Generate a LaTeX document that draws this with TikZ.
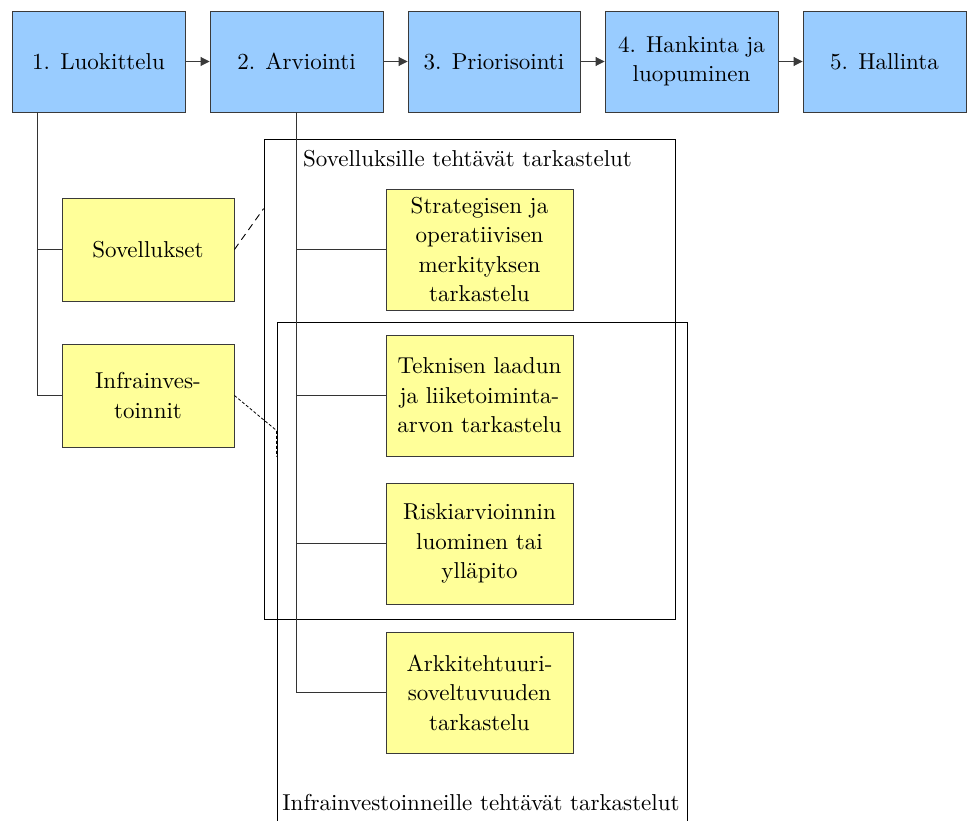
\documentclass[tikz,border=0pt]{standalone}
\usepackage{fontspec}
\IfFontExistsTF{lmroman10-regular.otf}
  {\setmainfont{lmroman10-regular.otf}}
  {\setmainfont{Latin Modern Roman}}
\usetikzlibrary{arrows.meta,calc}
\definecolor{stageblue}{HTML}{99CCFF}
\definecolor{taskyellow}{HTML}{FFFF99}
\definecolor{edgegray}{HTML}{3A3A3A}
\tikzset{
  stage/.style={draw=edgegray, fill=stageblue, line width=0.9pt, align=center, inner sep=0pt, minimum height=101pt},
  task/.style={draw=edgegray, fill=taskyellow, line width=0.9pt, align=center, inner sep=0pt, minimum width=187pt, minimum height=121pt},
  group/.style={draw=edgegray, fill=taskyellow, line width=0.9pt, align=center, inner sep=0pt, minimum width=172pt, minimum height=103pt},
  flow/.style={-{Triangle[length=9pt,width=9pt]}, line width=0.9pt, draw=edgegray},
  tree/.style={line width=0.9pt, draw=black!80},
  frame/.style={draw=black, line width=0.8pt, inner sep=0pt},
  caption/.style={inner sep=0pt}
}
\begin{document}
\begin{tikzpicture}[x=1pt,y=-1pt,font=\rmfamily\fontsize{23}{29.5}\selectfont]
\useasboundingbox (0,0) rectangle (967,821);
\clip (0,0) rectangle (967,821);

% frames around the two sets of reviews
\node[frame, minimum width=411pt, minimum height=480pt] (appframe) at (469.5,379) {};
\node[frame, minimum width=410pt, minimum height=518pt] (infframe) at (482,581) {};
\node[caption, anchor=west] (applabel) at (303,159) {Sovelluksille tehtävät tarkastelut};
\node[caption] (inflabel) at (481,803) {Infrainvestoinneille tehtävät tarkastelut};

% process stages
\node[stage, minimum width=173pt] (b1) at (98.5,61.5) {1. Luokittelu};
\node[stage, minimum width=173pt] (b2) at (296.5,61.5) {2. Arviointi};
\node[stage, minimum width=172pt] (b3) at (494,61.5) {3. Priorisointi};
\node[stage, minimum width=173pt] (b4) at (691.5,61.5) {4. Hankinta ja\\luopuminen};
\node[stage, minimum width=163pt] (b5) at (884.5,61.5) {5. Hallinta};

\draw[flow] (b1) -- (b2);
\draw[flow] (b2) -- (b3);
\draw[flow] (b3) -- (b4);
\draw[flow] (b4) -- (b5);

% classification branches
\coordinate (lroot) at ($(b1.south west)+(26,0)$);
\draw[tree] (lroot) |- (148,249.5);
\draw[tree] (lroot) |- (148,395.5);
\node[group] (sov) at (148,249.5) {Sovellukset};
\node[group] (inf) at (148,395.5) {Infrainves-\\toinnit};

% assessment branches
\node[task] (strat) at (479.5,249.5) {Strategisen ja\\operatiivisen\\merkityksen\\tarkastelu};
\node[task] (tek) at (479.5,395.5) {Teknisen laadun\\ja liiketoiminta-\\arvon tarkastelu};
\node[task] (risk) at (479.5,543.5) {Riskiarvioinnin\\luominen tai\\ylläpito};
\node[task] (ark) at (479.5,692.5) {Arkkitehtuuri-\\soveltuvuuden\\tarkastelu};
\draw[tree] (b2.south) |- (strat.west);
\draw[tree] (b2.south) |- (tek.west);
\draw[tree] (b2.south) |- (risk.west);
\draw[tree] (b2.south) |- (ark.west);

% links from the categories to their review frames
\draw[line width=0.9pt, dash pattern=on 7pt off 5pt] (sov.east) -- ($(appframe.north west)+(0,70)$);
\draw[line width=0.8pt, dash pattern=on 3pt off 2pt] (inf.east) -- ($(infframe.north west)+(0,109)$) -- ++(0,26);
\end{tikzpicture}
\end{document}
